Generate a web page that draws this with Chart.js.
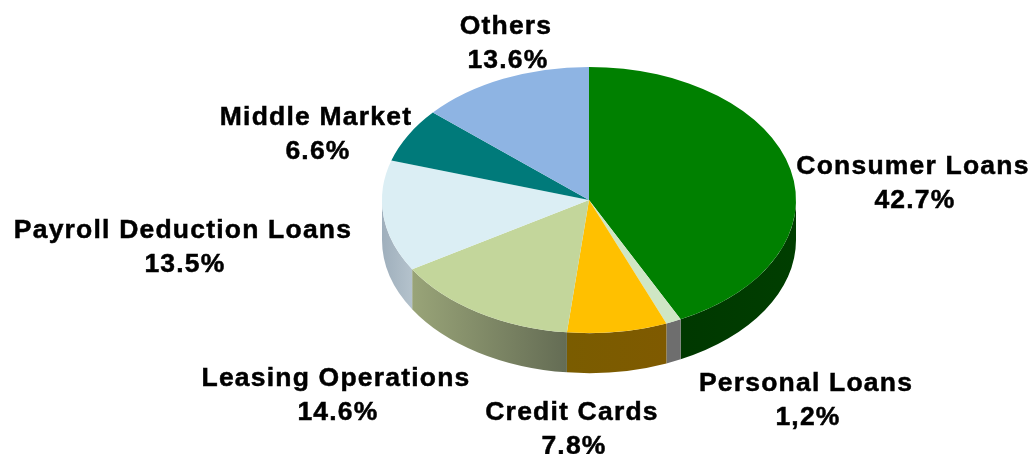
<!DOCTYPE html>
<html>
<head>
<meta charset="utf-8">
<title>Loan Portfolio</title>
<script src="https://cdn.jsdelivr.net/npm/chart.js@4"></script>
<style>
	html, body { margin: 0; padding: 0; background: #fff; }
	canvas { display: block; }
</style>
</head>
<body>
<canvas id="portfolioChart" width="1033" height="454"></canvas>
<script>
// slices run clockwise from twelve o'clock
const categories = ['Consumer Loans', 'Personal Loans', 'Credit Cards', 'Leasing Operations', 'Payroll Deduction Loans', 'Middle Market', 'Others']
const shares = [42.7, 1.2, 7.8, 14.6, 13.5, 6.6, 13.6]
const shareLabels = ['42.7%', '1,2%', '7.8%', '14.6%', '13.5%', '6.6%', '13.6%']

const topColors = ['#008000', '#CFE6C4', '#FFC000', '#C3D69B', '#DBEEF4', '#007A7A', '#8EB4E3']
const sideColors = [
	['#003E00', '#003800'],
	['#6E6E6E', '#6E6E6E'],
	['#7F5A00', '#7A5C00'],
	['#646C54', '#99A478'],
	['#B4C2CC', '#9FAFBC'],
	['#004040', '#004040'],
	['#4A5E78', '#4A5E78'],
]

// centre of each text block, x, and baseline of its first line
const labelSpots = [[913, 174], [806, 391], [572, 420], [336, 386], [183, 238], [316, 125], [506, 34]]

const TILT = 0.643     // how flat the disc is drawn
const DEPTH = 40       // height of the rim
const CENTER_Y = 200   // where the disc centre lands on the page
const LINE_GAP = 34
const SHARE_NUDGE = 2  // percentages sit a little right of their names

// draws the rim for the part of each slice that faces the viewer
function drawRim(ctx, chart) {
	const arcs = chart.getDatasetMeta(0).data
	arcs.forEach((arc, i) => {
		const from = Math.max(arc.startAngle, 0)
		const to = Math.min(arc.endAngle, Math.PI)
		if (to <= from) return
		const rx = arc.outerRadius
		const ry = rx * TILT
		const x1 = arc.x + rx * Math.cos(from)
		const x2 = arc.x + rx * Math.cos(to)
		const grad = ctx.createLinearGradient(x2, 0, x1, 0)
		grad.addColorStop(0, sideColors[i][1])
		grad.addColorStop(1, sideColors[i][0])
		ctx.beginPath()
		ctx.ellipse(arc.x, CENTER_Y, rx, ry, 0, from, to)
		ctx.ellipse(arc.x, CENTER_Y + DEPTH, rx, ry, 0, to, from, true)
		ctx.closePath()
		ctx.fillStyle = grad
		ctx.fill()
	})
}

const tiltedDisc = {
	id: 'tiltedDisc',
	beforeDatasetsDraw(chart) {
		const ctx = chart.ctx
		const cy = chart.getDatasetMeta(0).data[0].y
		drawRim(ctx, chart)
		ctx.save()
		ctx.translate(0, CENTER_Y)
		ctx.scale(1, TILT)
		ctx.translate(0, -cy)
	},
	afterDatasetsDraw(chart) {
		chart.ctx.restore()
	},
}

const sliceLabels = {
	id: 'sliceLabels',
	afterDraw(chart) {
		const ctx = chart.ctx
		ctx.save()
		ctx.fillStyle = '#000'
		ctx.strokeStyle = '#000'
		ctx.lineWidth = 0.5
		ctx.font = 'bold 26.5px "Liberation Sans", Arial, sans-serif'
		ctx.letterSpacing = '1.2px'
		ctx.textAlign = 'center'
		ctx.textBaseline = 'alphabetic'
		categories.forEach((name, i) => {
			const [x, y] = labelSpots[i]
			ctx.fillText(name, x, y)
			ctx.strokeText(name, x, y)
			ctx.fillText(shareLabels[i], x + SHARE_NUDGE, y + LINE_GAP)
			ctx.strokeText(shareLabels[i], x + SHARE_NUDGE, y + LINE_GAP)
		})
		ctx.restore()
	},
}

new Chart(document.getElementById('portfolioChart'), {
	type: 'pie',
	data: {
		labels: categories,
		datasets: [{
			data: shares,
			backgroundColor: topColors,
			borderWidth: 0,
			clip: false,
		}],
	},
	options: {
		responsive: false,
		animation: false,
		layout: { padding: { left: 382, right: 237, top: 20, bottom: 20 } },
		plugins: { legend: { display: false }, tooltip: { enabled: false } },
	},
	plugins: [tiltedDisc, sliceLabels],
})
</script>
</body>
</html>
